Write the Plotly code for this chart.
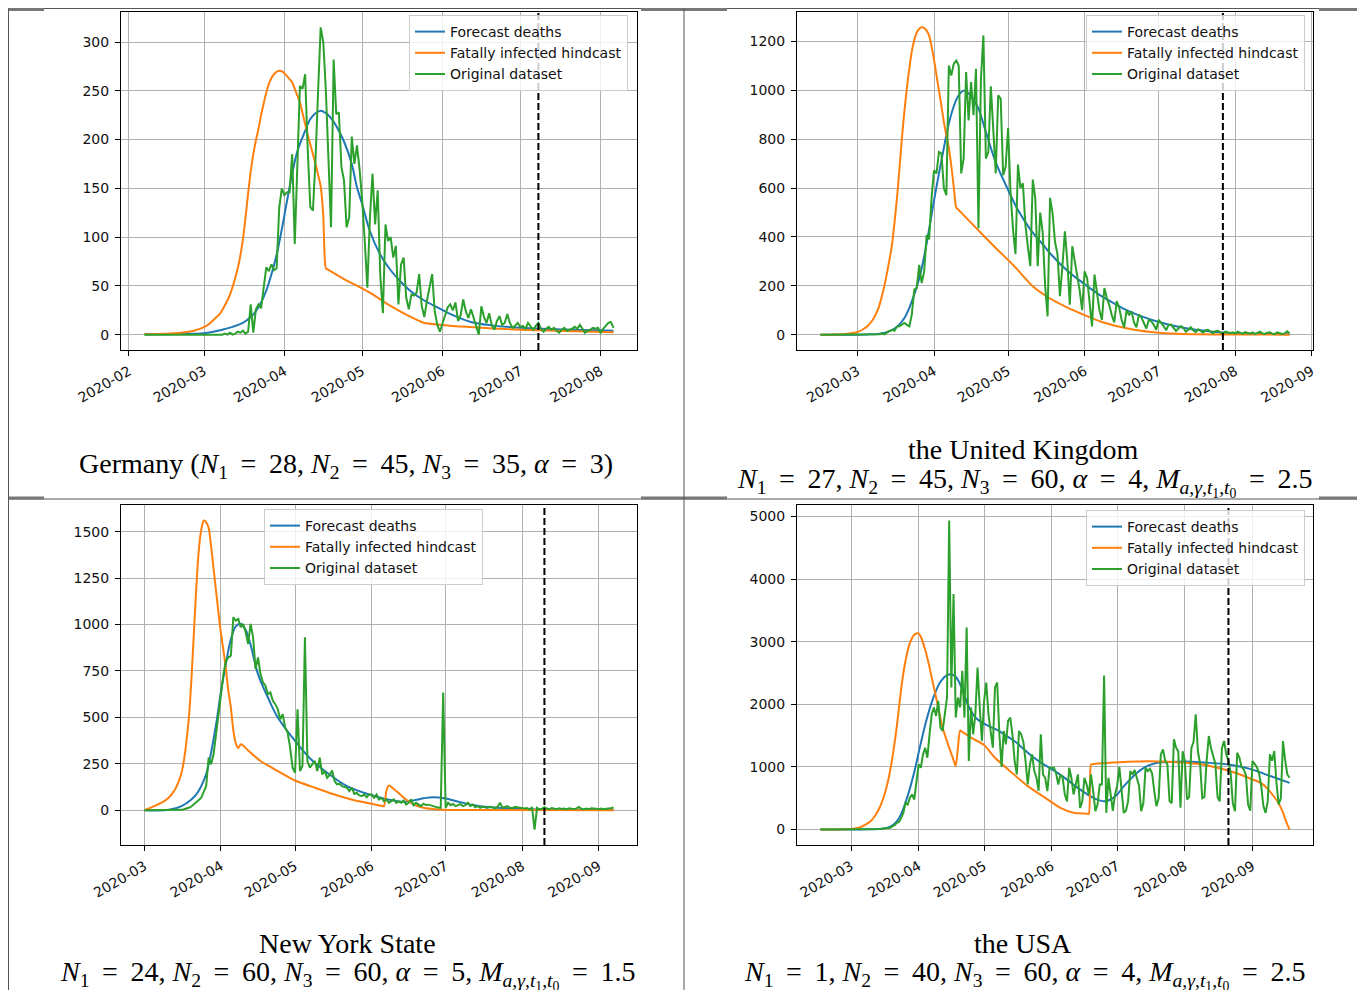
import pandas as pd
import plotly.graph_objects as go

# ------------------------------------------------------------------ data
# Germany
de_start = "2020-02-07"
de_actual = [0,0,0,0,0,0,0,0,0,0,0,0,0,0,0,0,0,0,0,0,0,0,0,
             0,0,0,0,0,0,0,0,1,0,2,0,1,3,2,4,1,3,31,2,26,31,27,46,69,65,72,66,68,130,150,
             143,146,146,185,93,182,255,252,267,189,131,127,179,250,315,300,250,180,110,282,226,228,172,158,110,120,203,175,194,170,
             138,96,48,120,165,113,148,60,22,113,96,100,79,91,31,72,79,38,26,41,40,43,62,29,18,35,48,62,24,10,3,
             12,20,28,31,25,33,14,20,36,24,17,26,18,8,0,29,18,12,22,10,5,14,19,10,12,21,12,7,9,12,
             8,9,6,12,8,5,9,12,6,3,6,8,5,7,4,2,5,7,4,5,6,8,6,10,6,2,4,5,7,6,7,
             2,6,9,12,13,7]
de_fc_dates = ["02-07","02-20","03-01","03-08","03-12","03-16","03-19","03-21","03-23","03-25","03-27","03-29",
               "03-31","04-02","04-04","04-06","04-09","04-11","04-13","04-15","04-17","04-19","04-21","04-24",
               "04-27","04-29","05-01","05-04","05-08","05-12","05-16","05-20","05-25","05-30","06-05","06-12",
               "06-20","07-01","07-15","08-06"]
de_fc = [0.3,0.7,1.5,5,8,12,18,24,33,45,62,82,108,137,165,188,209,221,227,229.5,227,222,214,198,175,151,134,
         106,82,66,54,44,35,28,20,13,9.5,7,5.5,4]
de_hc_dates = ["02-07","02-15","02-21","02-26","03-01","03-03","03-05","03-07","03-08","03-09","03-10","03-11",
               "03-12","03-13","03-14","03-15","03-16","03-17","03-18","03-19","03-20","03-21","03-22","03-23",
               "03-24","03-25","03-26","03-27","03-28","03-29","03-30","03-31","04-01","04-02","04-03","04-04",
               "04-05","04-06","04-07","04-08","04-09","04-10","04-11","04-12","04-13","04-14","04-15","04-16",
               "04-17","04-18","04-24","05-04","05-11","05-18","05-25","05-30","06-10","07-01","07-15","08-06"]
de_hc = [0.3,1,2,4,7.7,11,16,21,25,30,35,41,49,58,68,81,98,120,145,167,185,199,211,225,237,248,257,263,267,
         269.5,270.5,270,268,265,262,258.5,252,245,238,227,216,205,195,185,175,164,152,122,68,66.4,57,43,31,
         20.5,12,10.5,8,5,4,2.5]
de_cut = "2020-07-08"

# United Kingdom
uk_start = "2020-02-15"
uk_actual = [0,0,0,0,0,0,0,0,0,0,0,0,0,0,0,
             0,0,1,0,1,1,0,2,1,2,5,1,10,14,20,16,33,34,40,48,40,34,82,184,190,286,211,258,408,390,560,
             673,660,748,741,599,571,1102,1061,1109,1122,1102,660,721,1075,877,1034,898,1088,435,1048,1225,721,748,1017,830,660,980,966,653,687,
             846,580,430,330,696,600,620,450,360,280,635,560,280,500,420,200,75,560,498,380,330,157,280,423,300,123,362,300,250,180,100,
             259,232,120,34,246,180,100,60,191,150,120,80,50,137,110,60,30,100,80,96,50,30,82,70,45,25,60,55,40,20,
             61,50,35,18,40,41,30,15,25,35,27,12,20,30,18,10,22,15,8,18,20,12,6,14,16,8,5,12,10,6,9,
             4,12,6,3,10,8,4,9,2,7,12,5,3,8,10,4,2,9,6,3,5,14,6]
uk_fc_dates = ["02-15","03-05","03-10","03-13","03-16","03-18","03-20","03-22","03-24","03-26","03-28","03-30",
               "04-01","04-03","04-05","04-07","04-09","04-11","04-13","04-15","04-17","04-19","04-22","04-26",
               "05-01","05-05","05-10","05-15","05-19","05-25","05-31","06-06","06-12","06-18","06-23","07-01",
               "07-11","07-22","08-01","08-12","08-23"]
uk_fc = [0,1,4,10,25,42,68,110,165,230,320,430,550,660,765,864,935,980,999,988,962,925,830,705,593,510,431,
         370,322,262,214,170,133,100,79,52,28,13,6,3,1.5]
uk_hc_dates = ["02-15","02-25","03-01","03-03","03-05","03-07","03-08","03-09","03-10","03-11","03-12","03-13",
               "03-14","03-15","03-16","03-17","03-18","03-19","03-20","03-21","03-22","03-23","03-24","03-25",
               "03-26","03-27","03-28","03-29","03-30","03-31","04-01","04-02","04-03","04-04","04-05","04-06",
               "04-07","04-08","04-09","04-10","04-11","04-18","04-26","05-04","05-11","05-18","05-24","06-01",
               "06-08","06-20","07-01","07-15","08-01","08-23"]
uk_hc = [0,3,11,20,34,58,75,96,125,162,205,255,310,369,460,560,680,805,915,1010,1090,1160,1205,1237,1252,
         1258,1255,1245,1225,1180,1125,1062,1000,935,870,815,765,690,605,520,510,437,355,275,198,148,116,80,
         52,22,8,2,0.5,0]
uk_cut = "2020-07-27"

# New York State
ny_start = "2020-03-01"
ny_actual = [0,0,0,0,0,0,0,0,0,0,0,0,0,0,1,2,5,8,13,20,30,40,55,67,103,130,283,247,301,409,499,
             607,733,805,823,832,1039,1021,1030,985,1003,958,895,1003,931,760,823,733,688,670,625,634,589,571,544,490,517,445,418,337,229,
             202,544,211,238,931,265,229,250,265,211,283,193,211,175,190,214,157,139,142,130,125,121,103,121,88,94,80,76,85,70,85,
             85,67,85,58,67,49,58,40,49,58,40,49,40,52,31,40,58,27,40,31,22,35,28,30,25,22,18,15,13,634,
             13,40,27,34,22,27,34,22,27,40,22,31,16,22,13,18,15,12,20,14,10,18,40,13,16,22,13,10,18,15,12,
             13,9,12,4,16,-104,13,4,8,16,9,6,12,8,5,10,7,9,4,11,8,6,10,18,7,5,9,6,10,8,7,
             6,9,5,8,7,10,16]
ny_fc_dates = ["03-01","03-11","03-16","03-20","03-22","03-24","03-26","03-27","03-28","03-30","04-01","04-03",
               "04-05","04-07","04-09","04-11","04-13","04-16","04-20","04-24","05-01","05-07","05-14","05-22",
               "06-01","06-08","06-14","06-18","06-22","06-26","07-01","07-05","07-12","07-18","08-01","08-20","09-07"]
ny_fc = [0,2,22,58,85,130,195,247,310,460,640,790,920,990,1003,970,890,733,607,499,373,280,202,130,
         81,57,45,53,64,70,63,50,28,17,7,3,2]
ny_hc_dates = ["03-01","03-05","03-09","03-11","03-13","03-15","03-16","03-17","03-18","03-19","03-20","03-21",
               "03-22","03-23","03-24","03-25","03-26","03-27","03-28","03-29","03-30","03-31","04-01","04-02",
               "04-03","04-04","04-05","04-06","04-07","04-08","04-09","04-10","04-12","04-17","04-24","05-01",
               "05-09","05-17","05-25","06-01","06-05","06-06","06-07","06-08","06-11","06-15","06-18","06-22",
               "06-28","07-05","09-07"]
ny_hc = [0,22,49,70,103,160,200,270,370,499,700,949,1200,1399,1510,1560,1550,1520,1420,1300,1180,1060,950,860,
         760,640,553,430,360,335,355,348,322,265,211,160,121,85,54,35,24,22,105,133,103,58,31,13,4,1,0]
ny_cut = "2020-08-10"

# United States
us_start = "2020-02-16"
us_actual = [0,0,0,0,0,0,0,0,0,0,0,0,0,0,
             0,0,1,1,2,1,2,3,4,5,5,7,9,10,12,18,23,30,27,53,70,107,120,187,267,427,400,507,560,480,774,
             1040,987,1200,1307,1147,1521,1841,1948,1814,2054,1627,1574,1841,2108,4936,2268,3762,1788,2108,1948,2535,1788,3228,1094,1948,1521,1841,2588,1948,1414,
             2054,2348,1841,1574,1307,2268,2348,1521,1000,1574,1361,1734,1788,1521,1094,880,1574,1521,1400,1094,720,1040,1200,934,827,620,1521,880,827,614,987,
             987,987,900,720,880,827,560,450,987,827,560,747,880,347,450,827,720,560,880,614,293,400,720,720,2460,267,827,560,300,560,
             700,1000,650,267,300,450,934,880,950,820,700,293,420,987,934,970,900,614,373,500,1200,1281,1100,1040,454,420,1441,1307,1250,347,1250,
             1100,480,520,1300,1400,1841,1250,1050,500,520,1100,1494,1300,1150,1050,520,450,1300,1414,1200,1100,900,420,293,1227,1150,1000,960,870,400,300,
             1094,1050,1000,900,700,380,267,450,1200,1100,1254,750,400,500,1414,1100,880,827]
us_fc_dates = ["02-16","03-10","03-16","03-19","03-22","03-24","03-27","03-30","04-02","04-05","04-08","04-11",
               "04-14","04-16","04-18","04-20","04-22","04-24","04-27","05-01","05-07","05-11","05-15","05-19",
               "05-23","05-27","06-01","06-06","06-12","06-17","06-21","06-25","06-28","07-01","07-04","07-10",
               "07-14","07-18","07-25","08-01","08-10","08-21","09-01","09-08","09-18"]
us_fc = [0,3,15,45,130,250,540,920,1380,1800,2130,2360,2465,2480,2440,2320,2140,1960,1790,1690,1590,1500,
         1410,1290,1170,1070,965,850,690,570,490,452,480,560,690,904,1000,1055,1080,1088,1070,1037,957,870,745]
us_hc_dates = ["02-16","03-01","03-05","03-10","03-12","03-14","03-16","03-18","03-19","03-20","03-21","03-22",
               "03-23","03-24","03-25","03-26","03-27","03-28","03-29","03-30","03-31","04-01","04-02","04-03",
               "04-04","04-05","04-06","04-09","04-12","04-15","04-17","04-18","04-19","04-20","04-21","04-25",
               "05-01","05-06","05-14","05-21","05-29","06-05","06-11","06-17","06-18","06-19","06-20","06-26",
               "07-06","07-15","07-25","08-01","08-09","08-16","08-24","09-01","09-05","09-08","09-11","09-13",
               "09-14","09-15","09-16","09-17","09-18"]
us_hc = [0,10,35,133,220,340,520,780,950,1150,1390,1650,1950,2250,2500,2700,2860,2980,3060,3110,3130,3132,
         3080,2990,2870,2740,2588,2108,1627,1307,1110,1014,1300,1580,1560,1467,1350,1147,900,694,507,347,267,
         253,250,1040,1045,1062,1083,1089,1083,1067,1040,987,907,800,740,650,520,420,350,270,170,80,0]
us_cut = "2020-08-21"

series_names = ["Forecast deaths", "Fatally infected hindcast", "Original dataset"]
series_colors = ["#1f77b4", "#ff7f0e", "#2ca02c"]
y_dticks = [50, 200, 250, 1000]

S = " \u2009"   # wider math-like spacing around "="
EQ = S + "=" + S
M_SUB = "<i>M</i><sub><i>a</i>,<i>γ</i>,<i>t</i><sub>1</sub>,<i>t</i><sub>0</sub></sub>"
captions = [
    ["Germany (<i>N</i><sub>1</sub>" + EQ + "28, <i>N</i><sub>2</sub>" + EQ + "45, <i>N</i><sub>3</sub>"
     + EQ + "35, <i>α</i>" + EQ + "3)"],
    ["the United Kingdom",
     "<i>N</i><sub>1</sub>" + EQ + "27, <i>N</i><sub>2</sub>" + EQ + "45, <i>N</i><sub>3</sub>" + EQ
     + "60, <i>α</i>" + EQ + "4, " + M_SUB + EQ + "2.5"],
    ["New York State",
     "<i>N</i><sub>1</sub>" + EQ + "24, <i>N</i><sub>2</sub>" + EQ + "60, <i>N</i><sub>3</sub>" + EQ
     + "60, <i>α</i>" + EQ + "5, " + M_SUB + EQ + "1.5"],
    ["the USA",
     "<i>N</i><sub>1</sub>" + EQ + "1, <i>N</i><sub>2</sub>" + EQ + "40, <i>N</i><sub>3</sub>" + EQ
     + "60, <i>α</i>" + EQ + "4, " + M_SUB + EQ + "2.5"],
]

# ------------------------------------------------------------------ geometry (page pixels)
OX, OY = 8, 8                 # page body margin
W, H = 1357, 982              # figure size


def fx(px):
    return (px - OX) / W


def fy(py):
    return 1 - (py - OY) / H


boxes = [(121, 637, 12, 350), (797, 1313, 12, 350), (121, 637, 505, 845), (797, 1313, 505, 845)]
legend_pos = [(628, 15, "right"), (1305, 15, "right"), (264, 509, "left"), (1305, 510, "right")]
caption_pos = [[(346, 466)], [(1023, 450), (1024, 482)], [(347, 943), (347, 975)], [(1023, 943), (1024, 975)]]

panels = [
    (de_start, de_actual, de_fc_dates, de_fc, de_hc_dates, de_hc, de_cut),
    (uk_start, uk_actual, uk_fc_dates, uk_fc, uk_hc_dates, uk_hc, uk_cut),
    (ny_start, ny_actual, ny_fc_dates, ny_fc, ny_hc_dates, ny_hc, ny_cut),
    (us_start, us_actual, us_fc_dates, us_fc, us_hc_dates, us_hc, us_cut),
]

fig = go.Figure()
tickfont = dict(family="DejaVu Sans", size=14, color="#111111")
shapes = []
annotations = []
layout = {}

for i, (start, actual, fcd, fc, hcd, hc, cut) in enumerate(panels):
    n = i + 1
    sx = "" if n == 1 else str(n)
    leg = "legend" if n == 1 else f"legend{n}"
    d_act = pd.date_range(start, periods=len(actual), freq="D")
    d_fc = pd.to_datetime(["2020-" + d for d in fcd])
    d_hc = pd.to_datetime(["2020-" + d for d in hcd])
    specs = [(d_fc, fc, dict(shape="spline", smoothing=1.0)),
             (d_hc, hc, dict(shape="spline", smoothing=0.6)),
             (d_act, actual, dict(shape="linear"))]
    for (xs, ys, shp), name, col in zip(specs, series_names, series_colors):
        fig.add_trace(go.Scatter(x=xs, y=ys, mode="lines", name=name,
                                 line=dict(color=col, width=2, **shp),
                                 xaxis="x" + sx, yaxis="y" + sx, legend=leg, hoverinfo="skip"))
    # matplotlib-like autoscale with 5% margins
    lo = min(d_act.min(), d_fc.min(), d_hc.min())
    hi = max(d_act.max(), d_fc.max(), d_hc.max())
    pad = (hi - lo) * 0.05
    xr = [(lo - pad).strftime("%Y-%m-%d %H:%M:%S"), (hi + pad).strftime("%Y-%m-%d %H:%M:%S")]
    ymin = min(min(actual), min(fc), min(hc))
    ymax = max(max(actual), max(fc), max(hc))
    ypad = (ymax - ymin) * 0.05
    yr = [ymin - ypad, ymax + ypad]

    x0, x1, y0, y1 = boxes[i]
    common = dict(showgrid=True, gridcolor="#b0b0b0", gridwidth=1, zeroline=False,
                  showline=True, linecolor="black", linewidth=1, mirror=True,
                  ticks="outside", ticklen=5, tickwidth=1, tickcolor="black",
                  tickfont=tickfont, automargin=False)
    layout["xaxis" + sx] = dict(domain=[fx(x0), fx(x1)], anchor="y" + sx, type="date", range=xr,
                                tickformat="%Y-%m", dtick="M1", tick0="2020-01-01", tickangle=-30,
                                ticklabelstandoff=2, **common)
    layout["yaxis" + sx] = dict(domain=[fy(y1), fy(y0)], anchor="x" + sx, range=yr,
                                dtick=y_dticks[i], tick0=0, tickformat="d",
                                ticklabelstandoff=3, **common)
    lx, ly, anc = legend_pos[i]
    layout[leg] = dict(x=fx(lx), y=fy(ly), xanchor=anc, yanchor="top",
                       bgcolor="rgba(255,255,255,0.8)", bordercolor="#cccccc", borderwidth=1,
                       font=dict(family="DejaVu Sans", size=14, color="#111111"))
    shapes.append(dict(type="line", xref="x" + sx, yref=f"y{sx} domain",
                       x0=cut, x1=cut, y0=0, y1=1,
                       line=dict(color="black", width=2, dash="7px,3px")))
    for text, (cx, cy) in zip(captions[i], caption_pos[i]):
        annotations.append(dict(text=text, x=fx(cx), y=fy(cy), xref="paper", yref="paper",
                                xanchor="center", yanchor="middle", showarrow=False,
                                font=dict(family="Liberation Serif", size=28, color="black")))

# table rules
thin = dict(color="#555555", width=1)
thick = dict(color="#777777", width=3)
for py in (8.5, 499):
    shapes.append(dict(type="line", xref="paper", yref="paper", x0=0, x1=1,
                       y0=fy(py), y1=fy(py), line=thin))
for py, a, b in ((9.5, 8, 44), (9.5, 641, 727), (9.5, 1319, 1365),
                 (498, 8, 44), (498, 641, 727), (498, 1319, 1365)):
    shapes.append(dict(type="line", xref="paper", yref="paper", x0=fx(a), x1=fx(b),
                       y0=fy(py), y1=fy(py), line=thick))
for px in (8.5, 684, 1361):
    shapes.append(dict(type="line", xref="paper", yref="paper", x0=fx(px), x1=fx(px),
                       y0=0, y1=fy(8.5), line=thin))

fig.update_layout(**layout)
fig.update_layout(width=W, height=H, margin=dict(l=0, r=0, t=0, b=0),
                  paper_bgcolor="white", plot_bgcolor="white",
                  showlegend=True, shapes=shapes, annotations=annotations)
fig.write_html("out.html")
